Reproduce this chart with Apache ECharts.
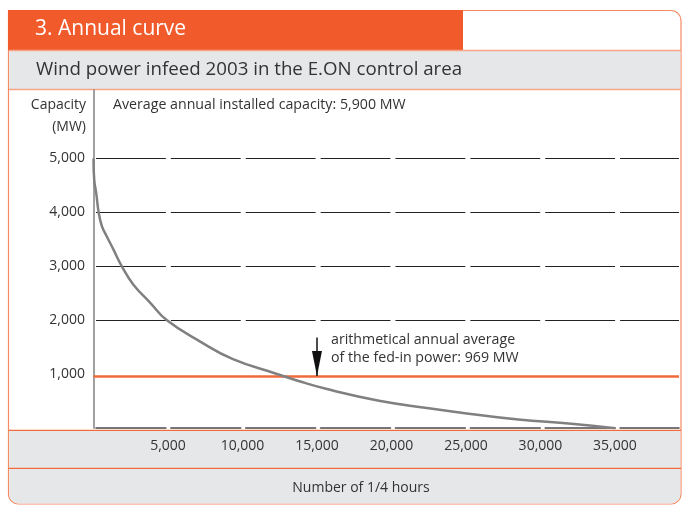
<!DOCTYPE html>
<html>
<head>
<meta charset="utf-8">
<script src="https://cdn.jsdelivr.net/npm/echarts@6/dist/echarts.min.js"></script>
<style>
  html, body { margin: 0; padding: 0; background: #fff; }
  #chart { width: 682px; height: 505px; }
</style>
</head>
<body>
<div id="chart"></div>
<script>
// ---- data ----
const quarterHours = [0, 50, 187, 341, 568, 902, 1343, 1904, 2680, 3795, 4930, 7136, 9361, 12262, 13818, 15602, 19164, 22505, 25178, 28519, 32081, 35040];
const capacityMW   = [5000, 4600, 4350, 4010, 3740, 3550, 3310, 3000, 2660, 2330, 2000, 1610, 1280, 1010, 870, 730, 510, 370, 270, 160, 83, 0];
const averageFedIn = 969;            // MW
const installedCapacity = 5900;      // MW
const arrowAt = [15000, 1680];       // annotation arrow start (x, y) in data units
const yTickLabels = [1000, 2000, 3000, 4000, 5000];
const xTickLabels = [5000, 10000, 15000, 20000, 25000, 30000, 35000];

const titleText = '3. Annual curve';
const subtitleText = 'Wind power infeed 2003 in the E.ON control area';
const yNameLines = ['Capacity', '(MW)'];
const xNameText = 'Number of 1/4 hours';
const noteLines = ['arithmetical annual average', 'of the fed-in power: ' + averageFedIn + ' MW'];
const installedText = 'Average annual installed capacity: ' + installedCapacity.toLocaleString('en-US') + ' MW';

const FONT = '"Open Sans", "Noto Sans", sans-serif';
const fmt = v => v.toLocaleString('en-US');

const chart = echarts.init(document.getElementById('chart'), null, { renderer: 'canvas' });

const dash = [69.87, 5];
const dashOffset = 72.37;

const option = {
  animation: false,
  backgroundColor: '#ffffff',
  grid: { left: 93.5, right: 0, top: 90, bottom: 76.8, containLabel: false },
  xAxis: {
    type: 'value',
    min: 0, max: 39300, interval: 5000,
    axisLine: { show: true, lineStyle: { color: '#4a4a4a', width: 1.6, type: dash, dashOffset: dashOffset } },
    axisTick: { show: false },
    splitLine: { show: false },
    axisLabel: {
      margin: 11,
      fontFamily: FONT, fontSize: 14, color: '#333',
      formatter: v => xTickLabels.indexOf(v) >= 0 ? fmt(v) : ''
    }
  },
  yAxis: {
    type: 'value',
    min: 0, max: 6270, interval: 1000,
    axisLine: { show: true, lineStyle: { color: '#808080', width: 1.5 } },
    axisTick: { show: false },
    splitLine: {
      show: true,
      lineStyle: {
        color: ['rgba(0,0,0,0)', 'rgba(0,0,0,0)', '#222', '#222', '#222', '#222', 'rgba(0,0,0,0)', 'rgba(0,0,0,0)'],
        width: 1, type: dash, dashOffset: dashOffset
      }
    },
    axisLabel: {
      margin: 8.5,
      fontFamily: FONT, fontSize: 14, color: '#333',
      formatter: v => yTickLabels.indexOf(v) >= 0 ? fmt(v) : ''
    }
  },
  series: [
    {
      type: 'line',
      data: quarterHours.map((q, i) => [q, capacityMW[i]]),
      showSymbol: false,
      smooth: 0.45,
      lineStyle: { color: '#808080', width: 2.5 },
      z: 3,
      markLine: {
        silent: true,
        z: 2,
        label: { show: false },
        data: [
          [
            { coord: [0, averageFedIn], symbol: 'none' },
            { coord: [39300, averageFedIn], symbol: 'none' }
          ],
          [
            { coord: [arrowAt[0], arrowAt[1]], symbol: 'none', lineStyle: { color: '#111', width: 1.5, type: 'solid' } },
            { coord: [arrowAt[0], averageFedIn], symbol: 'triangle', symbolSize: [10, 25], symbolOffset: [0, 12.5], lineStyle: { color: '#111', width: 1.5, type: 'solid' }, itemStyle: { color: '#111' } }
          ]
        ],
        lineStyle: { color: '#f26a3a', width: 2.5, type: 'solid' }
      }
    }
  ],
  graphic: [
    // frame
    { type: 'rect', z: -20, shape: { x: 8.5, y: 10.5, width: 672.5, height: 493.5, r: [0, 10, 10, 10] },
      style: { fill: '#ffffff', stroke: '#f58a63', lineWidth: 1.2 } },
    // subtitle band
    { type: 'rect', z: -15, shape: { x: 9.2, y: 51, width: 671.2, height: 38 }, style: { fill: '#e6e7e9' } },
    // x label band
    { type: 'rect', z: -15, shape: { x: 9.2, y: 430.2, width: 671.2, height: 38.1 }, style: { fill: '#e6e7e9' } },
    // name band
    { type: 'rect', z: -15, shape: { x: 9.2, y: 468.5, width: 671.2, height: 34.9, r: [0, 0, 9.5, 9.5] }, style: { fill: '#e6e7e9' } },
    // title bar
    { type: 'rect', z: -14, shape: { x: 8, y: 10, width: 455, height: 40 }, style: { fill: '#f15a2b' } },
    // separator lines
    { type: 'line', z: -13, shape: { x1: 9, y1: 50.6, x2: 681, y2: 50.6 }, style: { stroke: '#f6a587', lineWidth: 1.5 } },
    { type: 'line', z: -13, shape: { x1: 9, y1: 89.6, x2: 681, y2: 89.6 }, style: { stroke: '#f6a587', lineWidth: 1.5 } },
    { type: 'line', z: -13, shape: { x1: 9, y1: 430.4, x2: 681, y2: 430.4 }, style: { stroke: '#f36b3d', lineWidth: 1.2 } },
    { type: 'line', z: -13, shape: { x1: 9, y1: 468.4, x2: 681, y2: 468.4 }, style: { stroke: '#f36b3d', lineWidth: 1.3 } },
    // texts
    { type: 'text', z: 50, style: { text: titleText, x: 35, y: 29, fill: '#ffffff', font: '21px ' + FONT, textVerticalAlign: 'middle' } },
    { type: 'text', z: 50, style: { text: subtitleText, x: 36, y: 70, fill: '#333', font: '18.7px ' + FONT, textVerticalAlign: 'middle' } },
    { type: 'text', z: 50, style: { text: yNameLines[0], x: 86, y: 105, fill: '#333', font: '14px ' + FONT, textAlign: 'right', textVerticalAlign: 'middle' } },
    { type: 'text', z: 50, style: { text: yNameLines[1], x: 86, y: 127, fill: '#333', font: '14px ' + FONT, textAlign: 'right', textVerticalAlign: 'middle' } },
    { type: 'text', z: 50, style: { text: installedText, x: 113, y: 105, fill: '#333', font: '14.2px ' + FONT, textVerticalAlign: 'middle' } },
    { type: 'text', z: 50, style: { text: noteLines[0], x: 331, y: 340, fill: '#333', font: '14.2px ' + FONT, textVerticalAlign: 'middle' } },
    { type: 'text', z: 50, style: { text: noteLines[1], x: 331, y: 358, fill: '#333', font: '14.2px ' + FONT, textVerticalAlign: 'middle' } },
    { type: 'text', z: 50, style: { text: xNameText, x: 361, y: 488, fill: '#333', font: '14px ' + FONT, textAlign: 'center', textVerticalAlign: 'middle' } }
  ]
};

chart.setOption(option);
</script>
</body>
</html>
